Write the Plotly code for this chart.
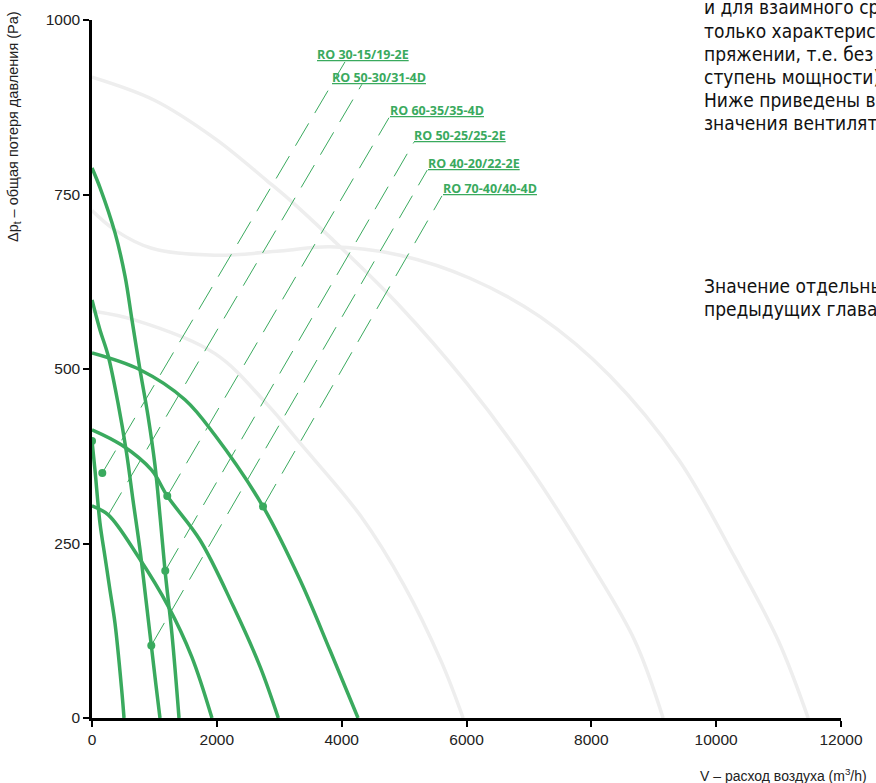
import plotly.graph_objects as go

# ---------------- data ----------------
x_ticks = [0, 2000, 4000, 6000, 8000, 10000, 12000]
y_ticks = [0, 250, 500, 750, 1000]

# green fan curves (V m3/h, dp Pa)
ro30_x = [0, 48, 128, 208, 288, 368, 476, 513]
ro30_y = [397, 355, 279, 231, 183, 136, 40, 0]

ro5030_x = [0, 261, 742, 1222, 1597, 1922]
ro5030_y = [304, 291, 231, 160, 88, 0]

ro60_x = [0, 476, 956, 1206, 1730, 2264, 2691, 2985]
ro60_y = [413, 391, 355, 318, 255, 160, 74, 0]

ro5025_x = [0, 128, 369, 529, 641, 769, 897, 1009, 1089, 1169, 1282, 1394]
ro5025_y = [788, 760, 695, 633, 570, 499, 433, 362, 290, 212, 119, 0]

ro40_x = [0, 128, 256, 417, 553, 657, 769, 865, 950, 1025, 1089]
ro40_y = [599, 556, 520, 451, 380, 312, 241, 169, 104, 47, 0]

ro70_x = [0, 769, 1490, 1971, 2740, 3332, 3813, 4262]
ro70_y = [523, 499, 456, 405, 303, 198, 97, 0]

# faded (other models) curves
g1_x = [0, 1000, 1971, 2800, 3172, 3800, 4934, 6000, 7000, 8000, 8700, 9150]
g1_y = [918, 885, 830, 770, 742, 690, 590, 480, 360, 220, 110, 0]
g2_x = [0, 369, 956, 1971, 3012, 3813, 4934, 6055, 7177, 8300, 9400, 10300, 11000, 11474]
g2_y = [727, 699, 673, 663, 669, 675, 663, 630, 575, 490, 370, 230, 110, 0]
g3_x = [0, 689, 1971, 2800, 3332, 4300, 5000, 5600, 5946]
g3_y = [583, 570, 522, 450, 394, 290, 190, 80, 0]

# labels and leader lines
label_names = ["RO 30-15/19-2E", "RO 50-30/31-4D", "RO 60-35/35-4D",
               "RO 50-25/25-2E", "RO 40-20/22-2E", "RO 70-40/40-4D"]
label_x = [3589, 3829, 4758, 5142, 5367, 5607]
label_y = [951, 918, 870, 835, 795, 758]
leader_top_x = [4053, 4325, 4758, 5158, 5371, 5607]
leader_top_y = [940, 908, 860, 825, 785, 748]
leader_bot_x = [165, 261, 1206, 1174, 950, 2740]
leader_bot_y = [351, 291, 318, 211, 104, 303]

dot_x = [0, 165, 1206, 2740, 1174, 950]
dot_y = [397, 351, 318, 303, 211, 104]

side_text = [
    "и для взаимного сравнения вентиляторов.",
    "только характеристики при номинальном на-",
    "пряжении, т.е. без регулирования (высшая",
    "ступень мощности).",
    "Ниже приведены все рабочие",
    "значения вентиляторов.",
    "Значение отдельных величин см. в",
    "предыдущих главах.",
]
side_text_py = [7, 31, 54, 77, 100, 123, 285.5, 308.5]

GREEN = "#3aaa5e"
GRAY = "#eeeeee"

fig = go.Figure()

for gx, gy in [(g1_x, g1_y), (g2_x, g2_y), (g3_x, g3_y)]:
    fig.add_trace(go.Scatter(x=gx, y=gy, mode="lines", line=dict(color=GRAY, width=3.5, shape="spline", smoothing=1.0),
                             hoverinfo="skip", showlegend=False))

for i in range(len(label_names)):
    fig.add_trace(go.Scatter(x=[leader_bot_x[i], leader_top_x[i]], y=[leader_bot_y[i], leader_top_y[i]],
                             mode="lines", line=dict(color=GREEN, width=1, dash="26px,12px"),
                             hoverinfo="skip", showlegend=False))

for cx, cy in [(ro30_x, ro30_y), (ro5030_x, ro5030_y), (ro60_x, ro60_y),
               (ro5025_x, ro5025_y), (ro40_x, ro40_y), (ro70_x, ro70_y)]:
    fig.add_trace(go.Scatter(x=cx, y=cy, mode="lines", line=dict(color=GREEN, width=3.5, shape="spline", smoothing=1.0),
                             hoverinfo="skip", showlegend=False))

fig.add_trace(go.Scatter(x=dot_x, y=dot_y, mode="markers", marker=dict(color=GREEN, size=8),
                         hoverinfo="skip", showlegend=False))

annotations = []
for i, name in enumerate(label_names):
    annotations.append(dict(x=label_x[i], y=label_y[i], xref="x", yref="y", text="<u><b>" + name + "</b></u>",
                            showarrow=False, xanchor="left", yanchor="middle", borderpad=0,
                            font=dict(family="Open Sans", size=12.5, color=GREEN)))

for t, py in zip(side_text, side_text_py):
    annotations.append(dict(x=(703 - 92) / 749, y=(718 - py) / 698, xref="paper", yref="paper", text=t,
                            showarrow=False, xanchor="left", yanchor="middle", borderpad=0,
                            font=dict(family="Liberation Sans Narrow, DejaVu Sans Condensed, sans-serif", size=19, color="#111111")))

annotations.append(dict(x=(14 - 92) / 749, y=(718 - 127) / 698, xref="paper", yref="paper",
                        text="Δp<sub>t</sub> – общая потеря давления (Pa)", textangle=-90, showarrow=False,
                        xanchor="center", yanchor="middle",
                        font=dict(family="Liberation Sans, Arial", size=14.5, color="#222222")))
annotations.append(dict(x=(869 - 92) / 749, y=(718 - 775) / 698, xref="paper", yref="paper",
                        text="V – расход воздуха (m<sup>3</sup>/h)", showarrow=False,
                        xanchor="right", yanchor="middle",
                        font=dict(family="Liberation Sans, Arial", size=14, color="#222222")))

axis_common = dict(showline=True, linecolor="black", linewidth=2.5, ticks="outside", ticklen=6, tickwidth=2,
                   tickcolor="black", showgrid=False, zeroline=False,
                   tickfont=dict(family="Liberation Sans, Arial", size=15.5, color="#222222"))

fig.update_layout(
    width=876, height=783,
    margin=dict(l=92, r=35, t=20, b=65),
    paper_bgcolor="white", plot_bgcolor="white",
    xaxis=dict(range=[0, 12000], tickvals=x_ticks, ticktext=[str(v) for v in x_ticks], **axis_common),
    yaxis=dict(range=[0, 1000], tickvals=y_ticks, ticktext=[str(v) for v in y_ticks], **axis_common),
    annotations=annotations,
)

fig.write_html("out.html", config={"displayModeBar": False},
               post_script="document.body.style.margin='0';document.body.style.overflow='hidden';")
